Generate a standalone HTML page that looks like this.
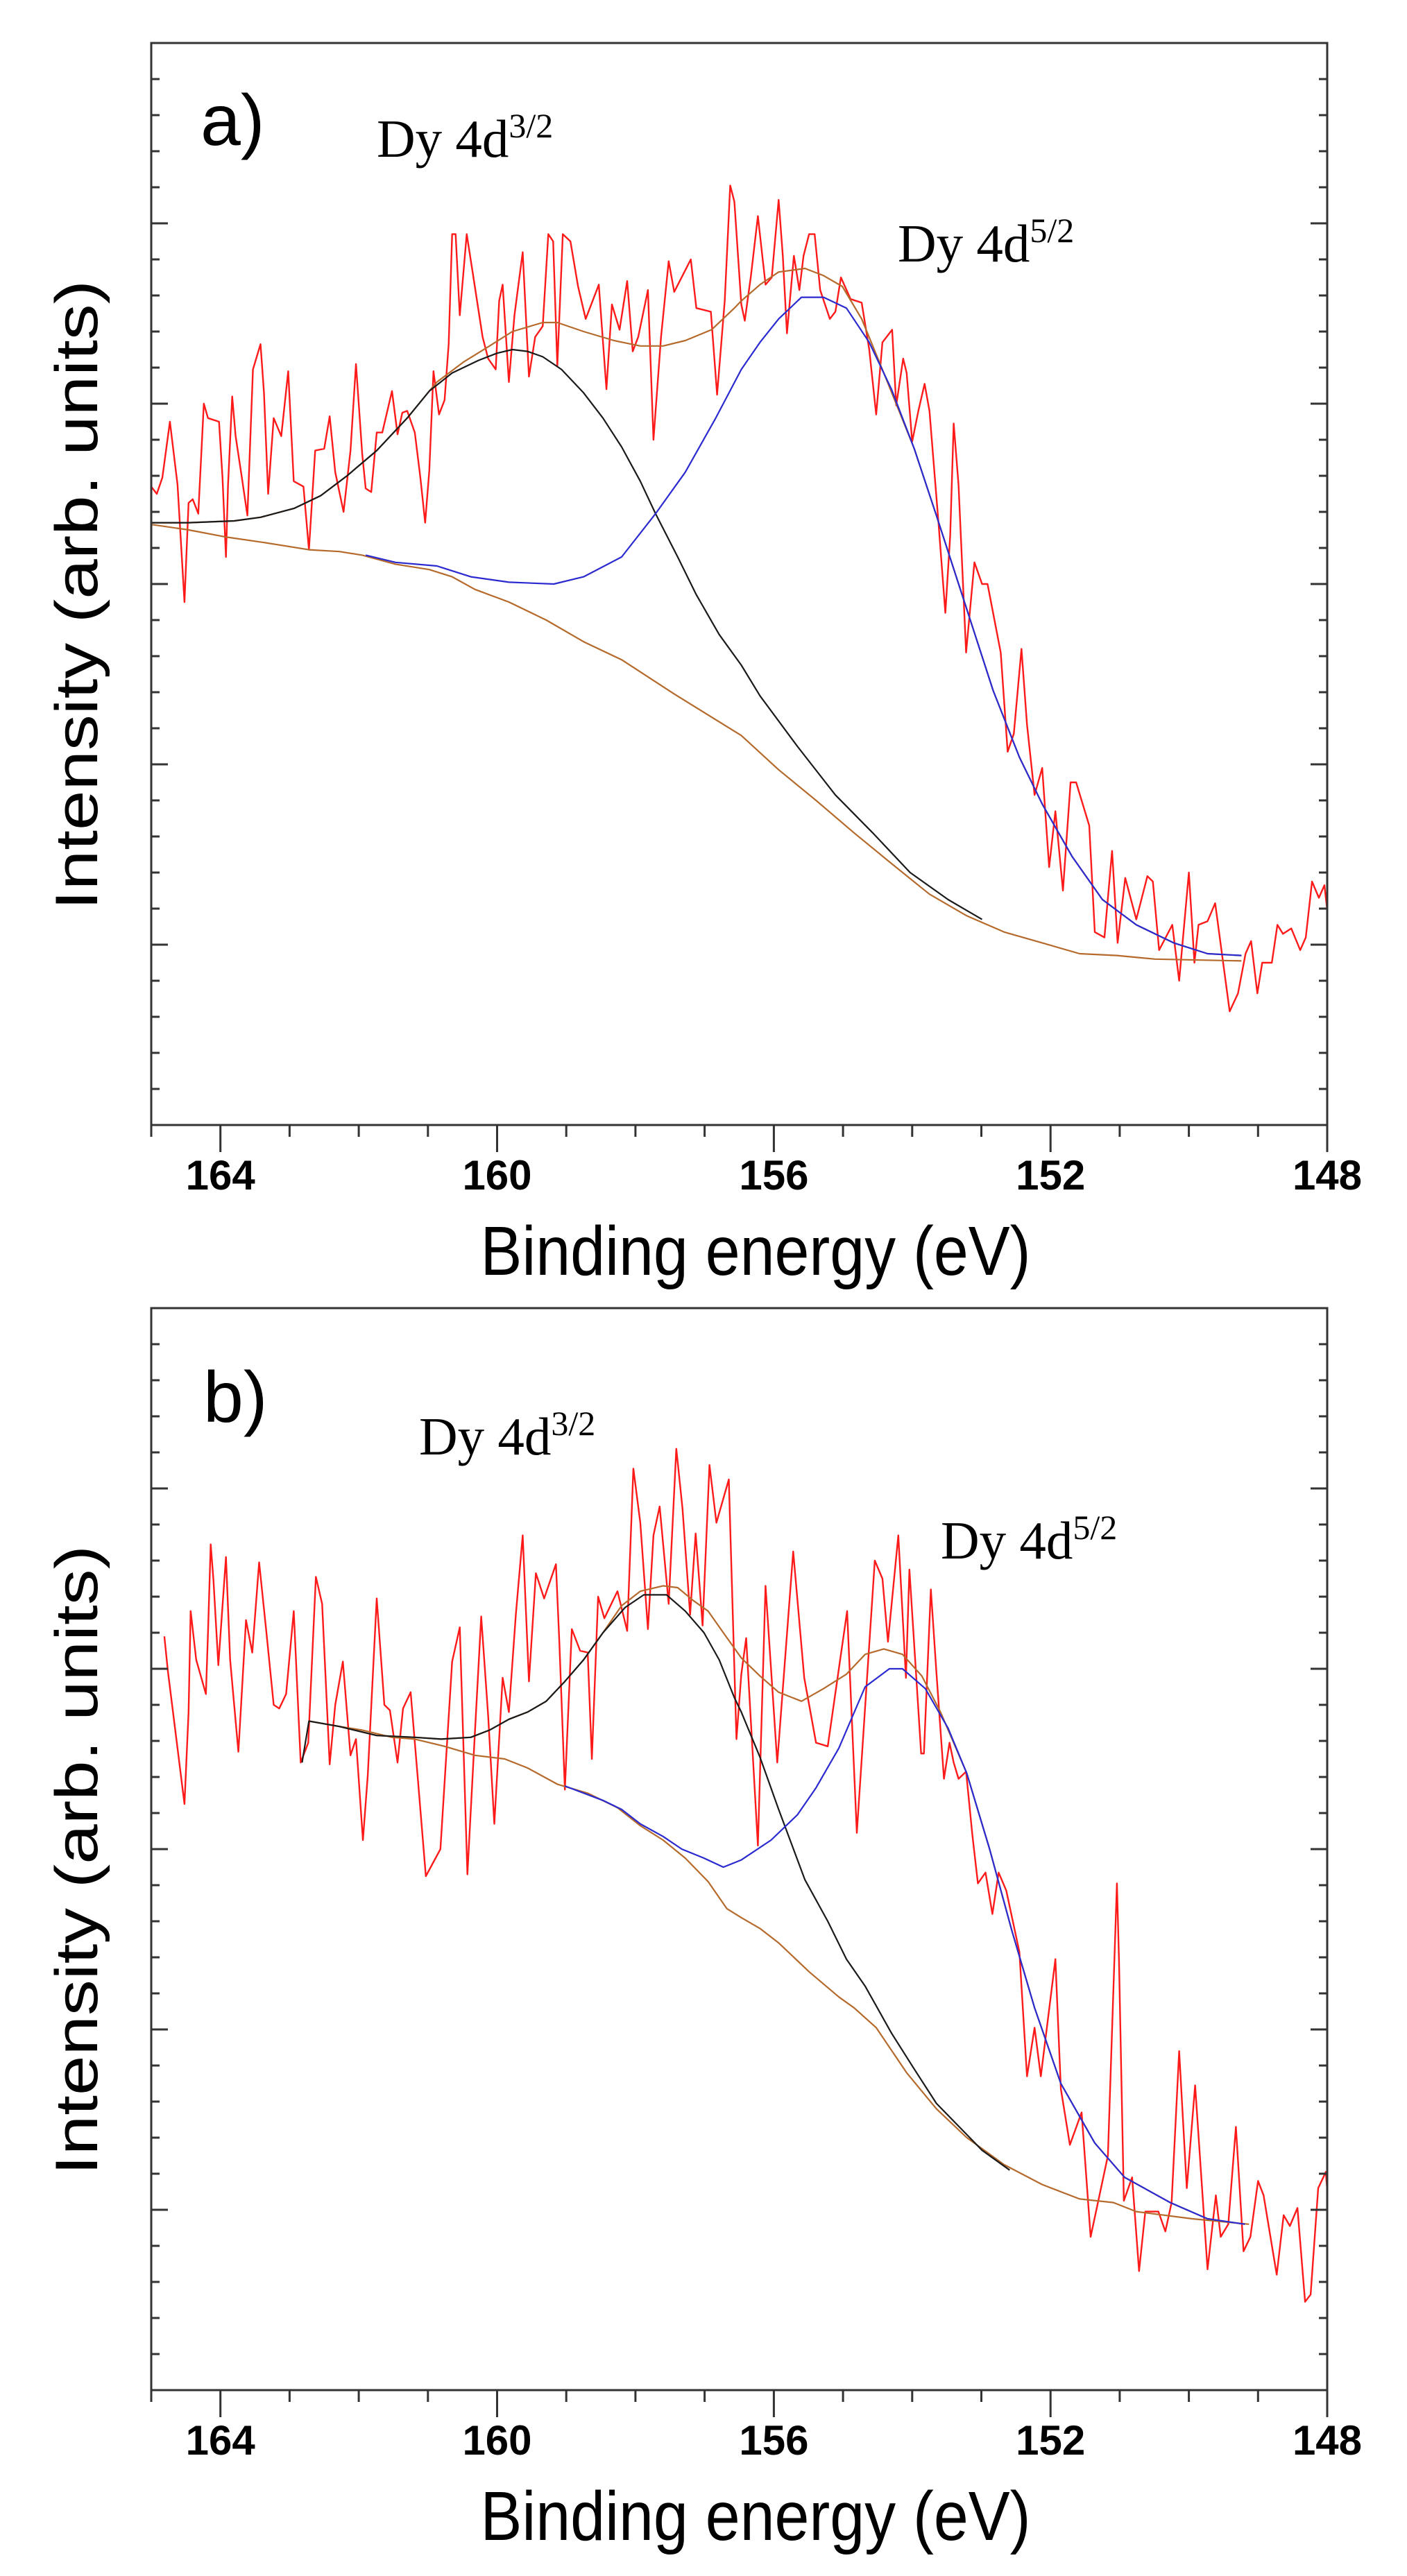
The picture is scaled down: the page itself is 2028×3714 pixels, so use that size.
<!DOCTYPE html>
<html><head><meta charset="utf-8"><title>Dy 4d XPS spectra</title>
<style>
html,body{margin:0;padding:0;background:#fff;}
svg{display:block;}
</style></head>
<body>
<svg id="fig" xmlns="http://www.w3.org/2000/svg" width="2028" height="3714" viewBox="0 0 2028 3714">
<rect x="0" y="0" width="2028" height="3714" fill="#fff"/>
<defs>
<clipPath id="clipA"><rect x="218" y="62" width="1695" height="1560"/></clipPath>
<clipPath id="clipB"><rect x="218" y="1886" width="1695" height="1560"/></clipPath>
</defs>
<g id="panelA"></g>
<g id="panelB"></g>
</svg>
<script>
// ---------- shared axis data ----------
var xTickValues = [165,164,163,162,161,160,159,158,157,156,155,154,153,152,151,150,149,148];
var xTickLabels = ["164","160","156","152","148"];
var xMin = 165, xMax = 148, yMin = 0, yMax = 6;

// ---------- panel a data (binding energy eV, intensity arb.) ----------
var aRawE = [165.00,164.92,164.84,164.73,164.62,164.52,164.46,164.40,164.32,164.24,164.18,164.02,163.97,163.92,163.89,163.83,163.78,163.69,163.61,163.53,163.42,163.37,163.31,163.23,163.12,163.02,162.94,162.80,162.72,162.63,162.50,162.42,162.34,162.22,162.12,162.04,161.95,161.90,161.82,161.74,161.66,161.52,161.44,161.37,161.30,161.19,161.11,161.04,160.98,160.92,160.84,160.76,160.70,160.65,160.60,160.54,160.44,160.35,160.21,160.13,160.02,159.97,159.92,159.83,159.75,159.63,159.54,159.45,159.34,159.26,159.19,159.13,159.05,158.94,158.83,158.72,158.53,158.42,158.34,158.23,158.12,158.04,157.96,157.82,157.74,157.63,157.52,157.44,157.20,157.12,156.91,156.82,156.71,156.63,156.57,156.47,
156.42,156.33,156.23,156.12,156.03,155.93,155.87,155.81,155.71,155.63,155.57,155.49,155.41,155.33,155.19,155.11,155.03,154.89,154.73,154.62,154.52,154.43,154.29,154.23,154.13,154.08,154.00,153.91,153.82,153.75,153.62,153.52,153.45,153.40,153.33,153.22,153.10,152.99,152.91,152.72,152.62,152.53,152.42,152.34,152.23,152.12,152.02,151.93,151.82,151.71,151.63,151.44,151.36,151.22,151.11,151.03,150.92,150.76,150.60,150.52,150.43,150.24,150.14,150.00,149.92,149.86,149.73,149.62,149.41,149.29,149.18,149.10,149.01,148.94,148.80,148.72,148.64,148.52,148.39,148.31,148.22,148.12,148.04,148.00];
var aRawI = [3.54,3.50,3.59,3.90,3.55,2.90,3.45,3.47,3.39,4.00,3.92,3.90,3.59,3.15,3.55,4.04,3.82,3.59,3.38,4.19,4.33,4.06,3.50,3.92,3.82,4.18,3.57,3.54,3.19,3.74,3.75,3.93,3.62,3.40,3.74,4.22,3.72,3.53,3.51,3.84,3.84,4.07,3.83,3.95,3.96,3.84,3.59,3.34,3.63,4.18,3.94,4.02,4.33,4.94,4.94,4.49,4.94,4.72,4.37,4.25,4.19,4.57,4.66,4.12,4.49,4.84,4.15,4.37,4.43,4.94,4.90,4.21,4.94,4.90,4.65,4.47,4.66,4.08,4.55,4.41,4.68,4.29,4.37,4.63,3.80,4.37,4.79,4.62,4.80,4.53,4.51,4.05,4.57,5.21,5.12,4.55,
4.46,4.71,5.04,4.66,4.70,5.13,4.82,4.39,4.82,4.63,4.82,4.94,4.94,4.63,4.47,4.51,4.70,4.58,4.56,4.30,3.94,4.34,4.41,3.99,4.25,4.17,3.79,3.96,4.11,3.96,3.34,2.84,3.27,3.89,3.55,2.62,3.12,3.00,3.00,2.62,2.07,2.17,2.64,2.22,1.83,1.98,1.43,1.74,1.30,1.90,1.90,1.66,1.07,1.04,1.52,1.01,1.37,1.14,1.38,1.35,0.97,1.11,0.80,1.40,0.90,1.11,1.13,1.23,0.63,0.73,0.95,1.02,0.73,0.90,0.90,1.11,1.06,1.09,0.97,1.04,1.35,1.26,1.33,1.19];
var aBgE = [165.00,164.46,163.91,163.37,162.72,162.28,161.95,161.47,160.98,160.65,160.32,159.83,159.29,158.75,158.20,157.44,156.47,155.93,155.39,154.84,154.30,153.75,153.21,152.67,152.12,151.58,151.04,150.49,149.24];
var aBgI = [3.33,3.30,3.26,3.23,3.19,3.18,3.16,3.11,3.08,3.04,2.97,2.90,2.80,2.68,2.58,2.39,2.16,1.97,1.80,1.62,1.45,1.28,1.16,1.07,1.01,0.95,0.94,0.92,0.91];
var aP1E = [165.00,164.46,163.80,163.42,162.93,162.55,162.17,161.74,161.30,160.98,160.65,160.27,160.00,159.78,159.56,159.34,159.07,158.75,158.47,158.20,157.93,157.71,157.39,157.12,156.79,156.47,156.20,155.66,155.11,154.57,154.03,153.48,152.99];
var aP1I = [3.34,3.34,3.35,3.37,3.42,3.49,3.60,3.74,3.92,4.07,4.17,4.24,4.28,4.30,4.29,4.26,4.19,4.06,3.92,3.76,3.57,3.39,3.15,2.94,2.72,2.55,2.38,2.10,1.83,1.62,1.40,1.25,1.14];
var aP2E = [161.90,161.47,160.87,160.38,159.83,159.18,158.75,158.20,157.71,157.28,156.84,156.47,156.20,155.93,155.60,155.28,154.95,154.62,154.30,153.97,153.65,153.21,152.83,152.45,152.12,151.69,151.25,150.76,150.22,149.73,149.24];
var aP2I = [3.16,3.12,3.10,3.04,3.01,3.00,3.04,3.15,3.39,3.62,3.92,4.19,4.34,4.47,4.59,4.59,4.53,4.34,4.08,3.75,3.38,2.86,2.41,2.04,1.78,1.49,1.25,1.11,1.01,0.95,0.94];
var aEnvE = [165.00,164.46,163.80,163.42,162.93,162.55,162.17,161.74,161.30,160.98,160.87,160.49,160.11,159.78,159.34,159.13,158.75,158.31,157.93,157.60,157.28,156.90,156.57,156.47,156.20,155.93,155.55,155.28,155.01,154.73,154.41,153.97,153.65,153.21,152.83,152.45,152.12,151.69,151.25,150.76,150.22,149.73,149.24];
var aEnvI = [3.34,3.34,3.35,3.37,3.42,3.49,3.60,3.74,3.92,4.07,4.12,4.23,4.32,4.40,4.45,4.45,4.40,4.35,4.32,4.32,4.35,4.41,4.53,4.57,4.66,4.73,4.75,4.71,4.65,4.47,4.17,3.75,3.38,2.86,2.41,2.04,1.78,1.49,1.25,1.11,1.01,0.95,0.94];

// ---------- panel b data ----------
var bRawE = [164.81,164.76,164.52,164.46,164.43,164.35,164.21,164.18,164.14,164.10,164.03,163.92,163.86,163.74,163.63,163.54,163.44,163.34,163.23,163.15,163.05,162.94,162.84,162.73,162.62,162.53,162.42,162.34,162.23,162.12,162.04,161.94,161.87,161.74,161.63,161.55,161.44,161.36,161.25,161.14,161.03,160.82,160.65,160.54,160.43,160.33,160.23,160.13,160.04,159.92,159.83,159.73,159.63,159.54,159.44,159.32,159.15,159.10,159.02,158.92,158.80,158.69,158.63,158.54,158.45,158.26,158.12,158.03,157.93,157.82,157.74,157.65,157.52,157.41,157.32,157.21,157.13,157.03,156.93,156.83,156.65,156.54,156.47,
156.40,156.23,156.12,155.95,155.72,155.56,155.39,155.22,154.94,154.80,154.54,154.43,154.35,154.20,154.09,154.04,153.87,
153.83,153.73,153.65,153.54,153.46,153.40,153.33,153.22,153.13,153.05,152.94,152.84,152.75,152.64,152.45,152.34,152.23,152.14,151.93,151.85,151.72,151.55,151.42,151.17,151.04,151.01,150.94,150.82,150.72,150.63,150.44,150.34,150.25,150.14,150.03,149.91,149.73,149.61,149.54,149.43,149.32,149.21,149.11,149.00,148.92,148.73,148.63,148.54,148.43,148.32,148.24,148.13,148.02,148.00];
var bRawI = [4.18,3.99,3.25,3.76,4.32,4.05,3.86,4.20,4.69,4.49,4.02,4.62,4.05,3.54,4.27,4.09,4.59,4.22,3.80,3.78,3.86,4.32,3.48,3.59,4.51,4.36,3.47,3.80,4.04,3.52,3.61,3.05,3.41,4.39,3.80,3.77,3.48,3.78,3.87,3.36,2.85,3.00,4.04,4.23,2.86,3.58,4.29,3.74,3.14,3.95,3.76,4.30,4.74,3.93,4.53,4.39,4.58,4.14,3.33,4.22,4.10,4.09,3.50,4.40,4.28,4.43,4.21,5.11,4.81,4.22,4.74,4.90,4.36,5.22,4.89,4.30,4.75,4.24,5.13,4.81,5.05,3.61,3.97,
4.17,3.02,4.46,3.48,4.65,3.95,3.59,3.57,4.32,3.09,4.60,4.50,4.15,4.74,3.95,4.55,3.53,
3.53,4.44,3.98,3.39,3.59,3.48,3.39,3.43,3.08,2.81,2.87,2.64,2.87,2.77,2.43,1.74,2.01,1.74,2.39,1.67,1.36,1.54,0.85,1.30,2.81,2.38,1.05,1.18,0.66,0.99,0.99,0.88,1.04,1.88,1.12,1.69,0.67,1.08,0.85,0.92,1.46,0.77,0.85,1.16,1.08,0.64,0.97,0.91,1.01,0.49,0.53,1.12,1.21,1.11];
var bBgE = [162.72,162.28,161.95,161.52,161.19,160.76,160.32,159.89,159.56,159.13,158.69,158.26,157.93,157.60,157.28,156.95,156.68,156.47,156.20,155.93,155.49,155.06,154.84,154.52,154.08,153.65,153.21,152.67,152.12,151.58,151.09,150.76,149.95,149.13];
var bBgI = [3.71,3.68,3.66,3.62,3.61,3.57,3.52,3.50,3.45,3.36,3.31,3.23,3.13,3.05,2.95,2.82,2.67,2.62,2.56,2.48,2.32,2.18,2.12,2.01,1.76,1.56,1.40,1.25,1.14,1.06,1.04,0.99,0.95,0.92];
var bP1E = [162.82,162.72,162.28,161.74,161.19,160.81,160.38,160.11,159.83,159.56,159.29,159.02,158.75,158.47,158.15,157.88,157.55,157.28,157.01,156.79,156.57,156.47,156.20,155.93,155.55,155.22,154.95,154.68,154.30,153.97,153.65,153.32,152.99,152.59];
var bP1I = [3.48,3.71,3.68,3.63,3.62,3.61,3.62,3.66,3.72,3.76,3.82,3.93,4.05,4.20,4.34,4.41,4.41,4.32,4.20,4.05,3.84,3.76,3.51,3.22,2.83,2.60,2.39,2.24,1.98,1.78,1.59,1.46,1.33,1.22];
var bP2E = [159.02,158.47,158.20,157.93,157.60,157.33,157.01,156.73,156.47,156.04,155.66,155.39,155.06,154.68,154.33,154.14,153.81,153.48,153.21,152.88,152.56,152.23,151.85,151.36,150.93,150.27,149.73,149.19];
var bP2I = [3.35,3.27,3.22,3.14,3.07,3.00,2.95,2.90,2.94,3.05,3.19,3.34,3.56,3.90,4.00,4.00,3.89,3.67,3.42,3.00,2.55,2.12,1.70,1.37,1.18,1.04,0.95,0.92];
var bEnvE = [162.72,162.28,161.74,161.19,160.81,160.38,160.11,159.83,159.56,159.29,159.02,158.75,158.47,158.20,157.93,157.60,157.39,157.17,156.95,156.73,156.47,156.20,155.93,155.60,155.28,154.95,154.68,154.41,154.14,153.86,153.59,153.21,152.88,152.56,152.23,151.85,151.36,150.93,150.27,149.73,149.19];
var bEnvI = [3.71,3.68,3.63,3.62,3.61,3.62,3.66,3.72,3.76,3.82,3.93,4.05,4.20,4.35,4.43,4.46,4.45,4.38,4.32,4.20,4.06,3.96,3.87,3.82,3.89,3.97,4.08,4.11,4.08,3.96,3.76,3.42,3.00,2.55,2.12,1.70,1.37,1.18,1.04,0.95,0.92];

// ---------- drawing ----------
var NS = "http://www.w3.org/2000/svg";
var plotLeft = 218, plotRight = 1913, plotH = 1560;
function xScale(e){ return plotLeft + (xMin - e) / (xMin - xMax) * (plotRight - plotLeft); }
function yScaleFor(bottom){ return function(v){ return bottom - (v - yMin) / (yMax - yMin) * plotH; }; }

function mk(parent, tag, attrs){
  var el = document.createElementNS(NS, tag);
  for (var k in attrs) el.setAttribute(k, attrs[k]);
  parent.appendChild(el);
  return el;
}

function drawSeries(g, xs, ys, ysc, color, width, name, clip){
  var pts = [];
  for (var i = 0; i < xs.length; i++) pts.push(xScale(xs[i]).toFixed(1) + "," + ysc(ys[i]).toFixed(1));
  var pl = mk(g, "polyline", {points: pts.join(" "), fill: "none", stroke: color, "stroke-width": width, "stroke-linejoin": "round", "clip-path": "url(#" + clip + ")"});
  
  
  return pl;
}

function drawPanel(gid, top, clip, letter, lab1, lab2, d){
  var g = document.getElementById(gid);
  var bottom = top + plotH;
  var ysc = yScaleFor(bottom);

  drawSeries(g, d.rawE, d.rawI, ysc, "#ff1a1a", 2.4, "raw-data-line", clip);
  drawSeries(g, d.bgE, d.bgI, ysc, "#b56a2c", 2.2, "background-line", clip);
  drawSeries(g, d.envE, d.envI, ysc, "#b56a2c", 2.2, "envelope-fit-line", clip);
  drawSeries(g, d.p1E, d.p1I, ysc, "#1a1a1a", 2.2, "dy-4d3-2-fit-line", clip);
  drawSeries(g, d.p2E, d.p2I, ysc, "#2a2ad0", 2.2, "dy-4d5-2-fit-line", clip);

  var frame = mk(g, "rect", {x: plotLeft, y: top, width: plotRight - plotLeft, height: plotH, fill: "none", stroke: "#333", "stroke-width": 3});
  
  

  var yt = mk(g, "g", {stroke: "#333", "stroke-width": 3});
  
  
  for (var k = 1; k < 30; k++){
    var v = k * 0.2;
    var y = ysc(v).toFixed(1);
    var len = (k % 5 === 0) ? 24 : 12;
    mk(yt, "line", {x1: plotLeft, x2: plotLeft + len, y1: y, y2: y});
    mk(yt, "line", {x1: plotRight, x2: plotRight - len, y1: y, y2: y});
  }
  var xt = mk(g, "g", {stroke: "#333", "stroke-width": 3});
  
  
  for (var j = 0; j < xTickValues.length; j++){
    var e = xTickValues[j];
    var major = xTickLabels.indexOf(String(e)) >= 0;
    var x = xScale(e).toFixed(1);
    mk(xt, "line", {x1: x, x2: x, y1: bottom, y2: bottom + (major ? 39 : 17)});
  }
  for (var m = 0; m < xTickLabels.length; m++){
    var t = mk(g, "text", {x: xScale(parseFloat(xTickLabels[m])).toFixed(1), y: bottom + 93, "text-anchor": "middle", "font-family": "Liberation Sans, Arial, sans-serif", "font-weight": "bold", "font-size": 60, fill: "#000"});
    t.textContent = xTickLabels[m];
    
    
  }
  var xl = mk(g, "text", {x: 1089, y: bottom + 216, "text-anchor": "middle", "font-family": "Liberation Sans, Arial, sans-serif", "font-size": 100, textLength: 793, lengthAdjust: "spacingAndGlyphs", fill: "#000"});
  xl.textContent = "Binding energy (eV)";
  
  
  var yc = top + 796;
  var yl = mk(g, "text", {x: 0, y: 0, transform: "translate(140," + yc + ") rotate(-90)", "text-anchor": "middle", "font-family": "Liberation Sans, Arial, sans-serif", "font-size": 86, textLength: 908, lengthAdjust: "spacingAndGlyphs", fill: "#000"});
  yl.textContent = "Intensity (arb. units)";
  
  

  var pl = mk(g, "text", {x: letter.x, y: top + letter.dy, "font-family": "Liberation Sans, Arial, sans-serif", "font-size": 104, fill: "#000"});
  pl.textContent = letter.t;
  
  

  [lab1, lab2].forEach(function(L, idx){
    var tx = mk(g, "text", {x: L.x, y: top + L.dy, "font-family": "Liberation Serif, Times New Roman, serif", "font-size": 77, fill: "#000"});
    
    
    var s1 = mk(tx, "tspan", {});
    s1.textContent = "Dy 4d";
    var s2 = mk(tx, "tspan", {"font-size": 50, dy: -28});
    s2.textContent = L.sup;
  });
}

drawPanel("panelA", 62, "clipA", {t: "a)", x: 289, dy: 147},
  {x: 543, dy: 164, sup: "3/2"}, {x: 1294, dy: 315, sup: "5/2"},
  {rawE: aRawE, rawI: aRawI, bgE: aBgE, bgI: aBgI, p1E: aP1E, p1I: aP1I, p2E: aP2E, p2I: aP2I, envE: aEnvE, envI: aEnvI});
drawPanel("panelB", 1886, "clipB", {t: "b)", x: 293, dy: 164},
  {x: 604, dy: 211, sup: "3/2"}, {x: 1356, dy: 361, sup: "5/2"},
  {rawE: bRawE, rawI: bRawI, bgE: bBgE, bgI: bBgI, p1E: bP1E, p1I: bP1I, p2E: bP2E, p2I: bP2I, envE: bEnvE, envI: bEnvI});
</script>
</body></html>
